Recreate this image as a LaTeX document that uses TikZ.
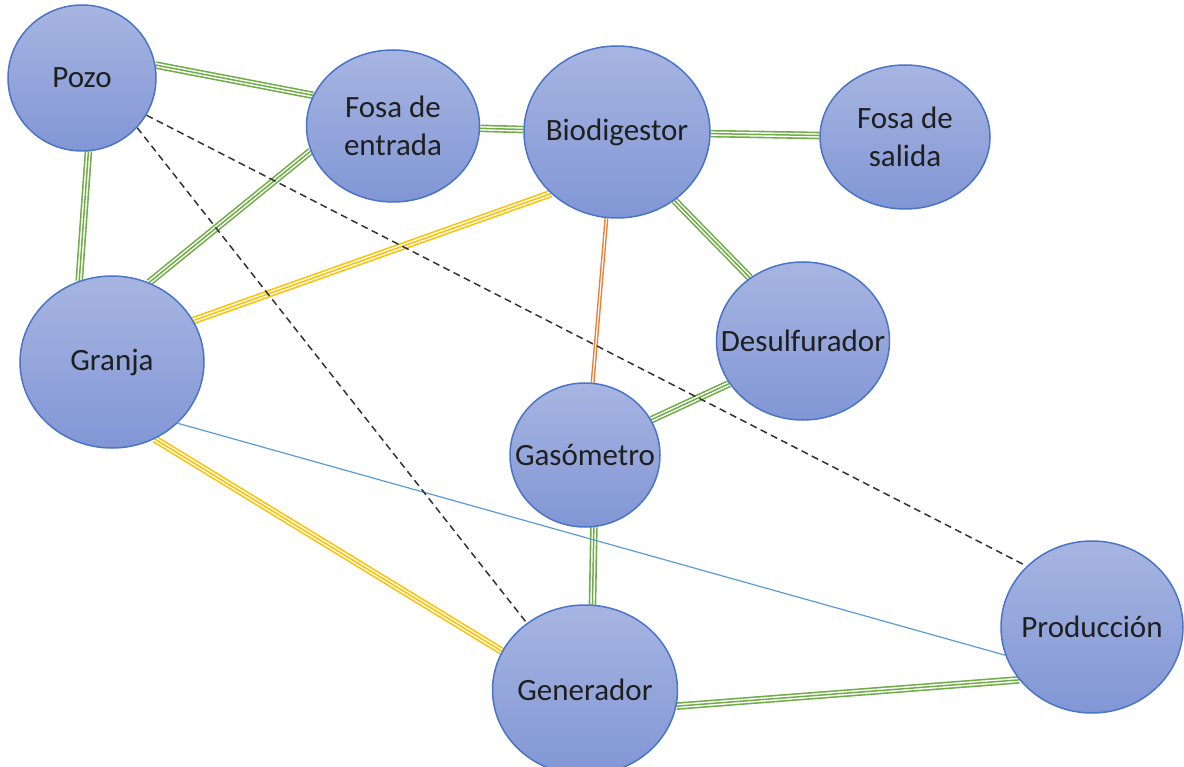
\documentclass[tikz,border=0pt]{standalone}
\usepackage{fontspec}
\setmainfont{Carlito}
\usetikzlibrary{shapes.geometric,backgrounds}
\definecolor{nodetop}{HTML}{A7B5E1}
\definecolor{nodebottom}{HTML}{8196D5}
\definecolor{nodeborder}{HTML}{4A74C6}
\definecolor{pipegreen}{HTML}{70AD47}
\definecolor{pipeyellow}{HTML}{FFC000}
\definecolor{pipeorange}{HTML}{ED7D31}
\definecolor{pipeblue}{HTML}{5B9BD5}
\begin{document}
\begin{tikzpicture}[x=1pt, y=-1pt,
    station/.style={ellipse, draw=nodeborder, line width=1.5pt, top color=nodetop, bottom color=nodebottom, inner sep=0pt},
    every label/.style={text=black!88, align=center, inner sep=0pt, font=\fontsize{31}{38}\selectfont},
    triple/.style={draw=#1, line width=1.5pt, preaction={draw=#1, line width=7.6pt}, preaction={draw=white, line width=4.4pt}},
    twin/.style={draw=#1, line width=4pt, postaction={draw=white, line width=1.2pt}},
    link/.style={draw=pipeblue, line width=1.2pt},
    hint/.style={draw=black!80, line width=1.5pt, dash pattern=on 7pt off 4.5pt}]
    \useasboundingbox (0, 0) rectangle (1184, 767);

    \node[station, minimum width=148pt, minimum height=146pt, label={center:Pozo}] (pozo) at (82, 78) {};
    \node[station, minimum width=173pt, minimum height=152pt, label={center:Fosa de\\entrada}] (fosaent) at (393, 126) {};
    \node[station, minimum width=186pt, minimum height=172pt, label={center:Biodigestor}] (biodig) at (617, 132) {};
    \node[station, minimum width=170pt, minimum height=144pt, label={center:Fosa de\\salida}] (fosasal) at (905, 137) {};
    \node[station, minimum width=184pt, minimum height=172pt, label={center:Granja}] (granja) at (112, 362) {};
    \node[station, minimum width=173pt, minimum height=158pt, label={center:Desulfurador}] (desulf) at (803, 341) {};
    \node[station, minimum width=150pt, minimum height=144pt, label={center:Gasómetro}] (gasom) at (585, 455) {};
    \node[station, minimum width=185pt, minimum height=170pt, label={center:Generador}] (gener) at (585, 690) {};
    \node[station, minimum width=182pt, minimum height=172pt, label={center:Producción}] (produc) at (1092, 627) {};

    \begin{scope}[on background layer]
        \draw[triple=pipegreen] (pozo.10) -- (fosaent.159);
        \draw[triple=pipegreen] (pozo.-85) -- (granja.112);
        \draw[triple=pipegreen] (fosaent) -- (biodig);
        \draw[triple=pipegreen] (fosaent.197) -- (granja.65);
        \draw[triple=pipegreen] (biodig) -- (fosasal);
        \draw[triple=pipegreen] (biodig.-50) -- (desulf.130);
        \draw[triple=pipegreen] (desulf.210) -- (gasom.28);
        \draw[triple=pipegreen] (gasom.-83) -- (gener.85);
        \draw[triple=pipegreen] (gener.-10) -- (produc.216);
        \draw[triple=pipeyellow] (granja.27) -- (biodig.223);
        \draw[triple=pipeyellow] (granja.-61) -- (gener.155);
        \draw[twin=pipeorange] (biodig.-97) -- (gasom.84);
        \draw[link] (granja.-43) -- (produc.198);
        \draw[hint] (pozo.-42) -- (gener.131);
        \draw[hint] (pozo.-30) -- (produc.137);
    \end{scope}
\end{tikzpicture}
\end{document}
